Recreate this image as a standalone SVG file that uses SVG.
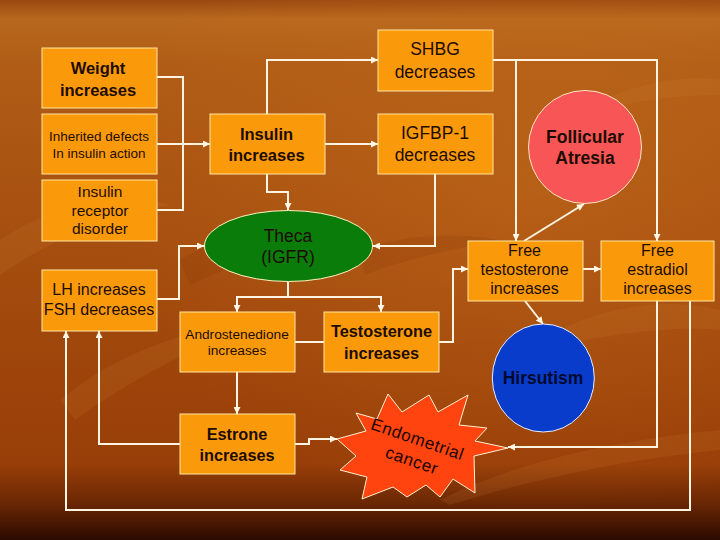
<svg xmlns="http://www.w3.org/2000/svg" width="720" height="540" viewBox="0 0 720 540">
<defs>
<linearGradient id="bg" x1="0" y1="0" x2="0" y2="1">
<stop offset="0" stop-color="#9a4810"/>
<stop offset="0.035" stop-color="#b8681e"/>
<stop offset="0.12" stop-color="#b05c16"/>
<stop offset="0.5" stop-color="#a44c0e"/>
<stop offset="0.86" stop-color="#983e08"/>
<stop offset="0.93" stop-color="#6c2804"/>
<stop offset="1" stop-color="#2c0a00"/>
</linearGradient>
<radialGradient id="glow" cx="0.75" cy="0.35" r="0.6">
<stop offset="0" stop-color="#c8701e" stop-opacity="0.45"/>
<stop offset="1" stop-color="#c8701e" stop-opacity="0"/>
</radialGradient>
<marker id="ah" viewBox="0 0 10 10" refX="10" refY="5" markerWidth="8" markerHeight="7" markerUnits="userSpaceOnUse" orient="auto">
<path d="M0,0 L10,5 L0,10 z" fill="#fff6e6"/>
</marker>
<style>
.box{fill:#fa9a0a;stroke:#ffe6a0;stroke-width:1}
.t{font-family:"Liberation Sans",Arial,sans-serif;fill:#1e0c00;text-anchor:middle}
.b{font-weight:bold}
.c{fill:none;stroke:#fff4e2;stroke-width:2}
.a{marker-end:url(#ah)}
.leaf{fill:#d8843a;opacity:0.14}
.dark{fill:#7a2e04;opacity:0.14}
</style>
</defs>
<rect x="0" y="0" width="720" height="540" fill="url(#bg)"/>
<rect x="0" y="0" width="720" height="540" fill="url(#glow)"/>
<g id="decor">
<path class="leaf" d="M0,240 C60,200 120,190 170,205 C110,215 50,240 0,275 z"/>
<path class="leaf" d="M60,400 C120,350 190,330 260,318 C200,345 130,380 75,420 z"/>
<path class="leaf" d="M560,330 C620,300 680,300 720,310 L720,330 C670,325 610,335 560,345 z"/>
<path class="leaf" d="M440,500 C520,460 620,440 720,430 L720,450 C620,460 530,480 450,505 z"/>
<path class="leaf" d="M600,100 C650,80 690,75 720,80 L720,95 C680,95 640,100 600,110 z"/>
<path class="dark" d="M180,260 C230,230 300,225 360,235 C300,245 240,260 190,285 z"/>
<path class="dark" d="M360,250 C420,230 470,235 500,240 C450,250 400,260 365,275 z"/>
</g>
<g id="connectors">
<path class="c" d="M157,77 H183 V210 H157"/>
<path class="c a" d="M157,144 H210"/>
<path class="c a" d="M267,114 V60 H378"/>
<path class="c a" d="M325,144 H378"/>
<path class="c a" d="M267,174 V192 H288 V210"/>
<path class="c a" d="M435,174 V246 H373"/>
<path class="c a" d="M157,299 H179 V246 H204"/>
<path class="c" d="M288,282 V297 M236,297 H381"/>
<path class="c a" d="M237,296 V312"/>
<path class="c a" d="M381,296 V312"/>
<path class="c" d="M295,342 H324"/>
<path class="c a" d="M439,342 H453 V269 H468"/>
<path class="c a" d="M493,60 H657 V241"/>
<path class="c a" d="M516,60 V241"/>
<path class="c a" d="M524,241 L584,204"/>
<path class="c a" d="M525,301 L543,324"/>
<path class="c a" d="M583,269 H601"/>
<path class="c a" d="M657,301 V447 H508"/>
<path class="c a" d="M690,301 V510 H66 V331"/>
<path class="c a" d="M237,372 V414"/>
<path class="c a" d="M180,444 H99 V331"/>
<path class="c a" d="M295,444 H309 V439 H337"/>
</g>
<g id="weight"><rect class="box" x="42" y="48" width="115" height="60"/>
<text class="t b" x="98" y="74" font-size="16.5">Weight</text><text class="t b" x="98" y="96" font-size="16.5">increases</text></g>
<g id="inherited"><rect class="box" x="42" y="114" width="115" height="60"/>
<text class="t" x="99" y="141" font-size="13.5">Inherited defects</text><text class="t" x="99" y="157.5" font-size="13.5">In insulin action</text></g>
<g id="receptor"><rect class="box" x="42" y="180" width="115" height="61"/>
<text class="t" x="100" y="197" font-size="15.5">Insulin</text><text class="t" x="100" y="215.5" font-size="15.5">receptor</text><text class="t" x="100" y="234" font-size="15.5">disorder</text></g>
<g id="lh"><rect class="box" x="42" y="270" width="115" height="61"/>
<text class="t" x="99" y="295" font-size="16">LH increases</text><text class="t" x="99" y="315" font-size="16">FSH decreases</text></g>
<g id="insulin"><rect class="box" x="210" y="114" width="115" height="60"/>
<text class="t b" x="266.5" y="139.5" font-size="16.5">Insulin</text><text class="t b" x="266.5" y="161" font-size="16.5">increases</text></g>
<g id="shbg"><rect class="box" x="378" y="30" width="115" height="61"/>
<text class="t" x="435" y="55" font-size="17.5">SHBG</text><text class="t" x="435" y="77.5" font-size="17.5">decreases</text></g>
<g id="igfbp"><rect class="box" x="378" y="114" width="115" height="60"/>
<text class="t" x="435" y="139" font-size="17.5">IGFBP-1</text><text class="t" x="435" y="161" font-size="17.5">decreases</text></g>
<g id="follicular"><circle cx="585" cy="147" r="56.5" fill="#f85656" stroke="#ffe6c0" stroke-width="1"/>
<text class="t b" x="585" y="142.5" font-size="17.5">Follicular</text><text class="t b" x="585" y="164" font-size="17.5">Atresia</text></g>
<g id="theca"><ellipse cx="288.5" cy="246" rx="84" ry="35.5" fill="#0a7c0a" stroke="#fff2c0" stroke-width="1"/>
<text class="t" x="288" y="241.5" font-size="17.5">Theca</text><text class="t" x="288" y="263" font-size="17.5">(IGFR)</text></g>
<g id="andro"><rect class="box" x="180" y="312" width="115" height="60"/>
<text class="t" x="237" y="338.5" font-size="13.7">Androstenedione</text><text class="t" x="237" y="355" font-size="13.7">increases</text></g>
<g id="testo"><rect class="box" x="324" y="312" width="115" height="60"/>
<text class="t b" x="381.5" y="337" font-size="16.3">Testosterone</text><text class="t b" x="381.5" y="358.5" font-size="16.3">increases</text></g>
<g id="freet"><rect class="box" x="468" y="241" width="115" height="60"/>
<text class="t" x="524.5" y="256" font-size="16">Free</text><text class="t" x="524.5" y="275" font-size="16">testosterone</text><text class="t" x="524.5" y="294" font-size="16">increases</text></g>
<g id="freee"><rect class="box" x="601" y="241" width="113" height="60"/>
<text class="t" x="657.5" y="256" font-size="16">Free</text><text class="t" x="657.5" y="275" font-size="16">estradiol</text><text class="t" x="657.5" y="294" font-size="16">increases</text></g>
<g id="hirsutism"><ellipse cx="543.3" cy="378" rx="51" ry="54" fill="#0a3ccc" stroke="#e8f0ff" stroke-width="1"/>
<text class="t b" x="543" y="384" font-size="17.5" style="fill:#000a30">Hirsutism</text></g>
<g id="estrone"><rect class="box" x="180" y="414" width="115" height="60"/>
<text class="t b" x="237" y="439.5" font-size="16.3">Estrone</text><text class="t b" x="237" y="461" font-size="16.3">increases</text></g>
<g id="cancer"><path d="M337,439 L366,431 L356,413 L377,419 L388,394 L402,412 L429,395 L438,412 L468,395 L459,425 L487,428 L475,441 L508,448 L474,456 L475,493 L453,479 L440,497 L426,485 L407,497 L393,487 L362,499 L367,477 L340,470 L356,456 Z" fill="#ff4410" stroke="#fff2d0" stroke-width="1"/>
<g transform="translate(416,450) rotate(19)">
<text class="t" x="-2" y="-5" font-size="17" letter-spacing="0.6" style="fill:#1a0500">Endometrial</text>
<text class="t" x="-0.5" y="17" font-size="17" letter-spacing="0.6" style="fill:#1a0500">cancer</text>
</g></g>
</svg>
